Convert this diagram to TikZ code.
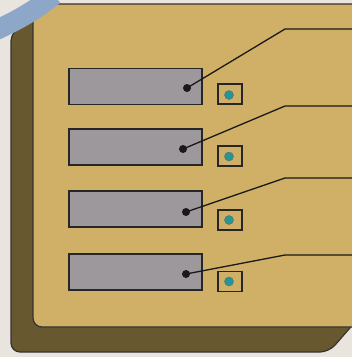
\documentclass[tikz,border=0pt]{standalone}
\usepackage{xcolor}
\usetikzlibrary{positioning,calc}

\definecolor{paper}{RGB}{233,228,222}
\definecolor{facetan}{RGB}{208,175,102}
\definecolor{sidebrown}{RGB}{104,88,48}
\definecolor{panelgray}{RGB}{156,152,156}
\definecolor{swooshblue}{RGB}{140,167,200}
\definecolor{ledteal}{RGB}{36,150,150}

\tikzset{
  panel/.style={draw=black!85, line width=1.2pt, fill=panelgray, minimum width=133pt, minimum height=36pt, inner sep=0pt},
  ledbox/.style={draw=black!85, line width=1.2pt, fill=facetan, minimum width=24pt, minimum height=20pt, inner sep=0pt},
  led/.style={circle, fill=ledteal, draw=black!60, minimum size=9pt, inner sep=0pt},
  pin/.style={circle, fill=black!90, minimum size=8pt, inner sep=0pt},
  leader/.style={line width=1.3pt, black!90}
}

\begin{document}
\begin{tikzpicture}[x=1pt, y=-1pt]

% Page and background paper
\clip (0,0) rectangle (352,357);
\fill[paper] (0,0) rectangle (352,357);

% Dark side of the case (thickness seen from the left and below)
\filldraw[fill=sidebrown, draw=black!80, line width=1.2pt, rounded corners=9pt] (42,16) -- (11,32) -- (11,352) -- (329,352) -- (356,321) -- (362,16) -- cycle;

% Front face of the case
\filldraw[fill=facetan, draw=black!80, line width=1.2pt, rounded corners=9pt] (33,4) -- (362,4) -- (362,327) -- (33,327) -- cycle;

% Blue swoosh over the top left corner
\draw[swooshblue, line width=20pt] (-6,31) .. controls (14,22) and (33,12) .. (54,-5);

% Display panels
\node[panel] (panel1) at (135.5,86.5) {};
\node[panel] (panel2) at (135.5,147) {};
\node[panel] (panel3) at (135.5,209) {};
\node[panel] (panel4) at (135.5,272) {};

% Indicator lamps beside the panels
\node[ledbox] (box1) at (230,94) {};
\node[ledbox] (box2) at (230,156) {};
\node[ledbox] (box3) at (230,220) {};
\node[ledbox] (box4) at (230,281.5) {};
\node[led] (led1) at (229,95) {};
\node[led] (led2) at (229,156.5) {};
\node[led] (led3) at (229,220) {};
\node[led] (led4) at (229,281.5) {};

% Pin points for the leader lines
\node[pin] (pin1) at (187,88) {};
\node[pin] (pin2) at (183,149) {};
\node[pin] (pin3) at (186,212) {};
\node[pin] (pin4) at (186,274) {};

% Bends and free ends of the leader lines
\coordinate (bend1) at (285,29);
\coordinate (bend2) at (285,106);
\coordinate (bend3) at (285,178);
\coordinate (bend4) at (285,255);
\coordinate (end1) at (352,29);
\coordinate (end2) at (352,106);
\coordinate (end3) at (352,178);
\coordinate (end4) at (352,255);

% Leader lines
\draw[leader] (pin1.center) -- (bend1) -- (end1);
\draw[leader] (pin2.center) -- (bend2) -- (end2);
\draw[leader] (pin3.center) -- (bend3) -- (end3);
\draw[leader] (pin4.center) -- (bend4) -- (end4);

\end{tikzpicture}
\end{document}
